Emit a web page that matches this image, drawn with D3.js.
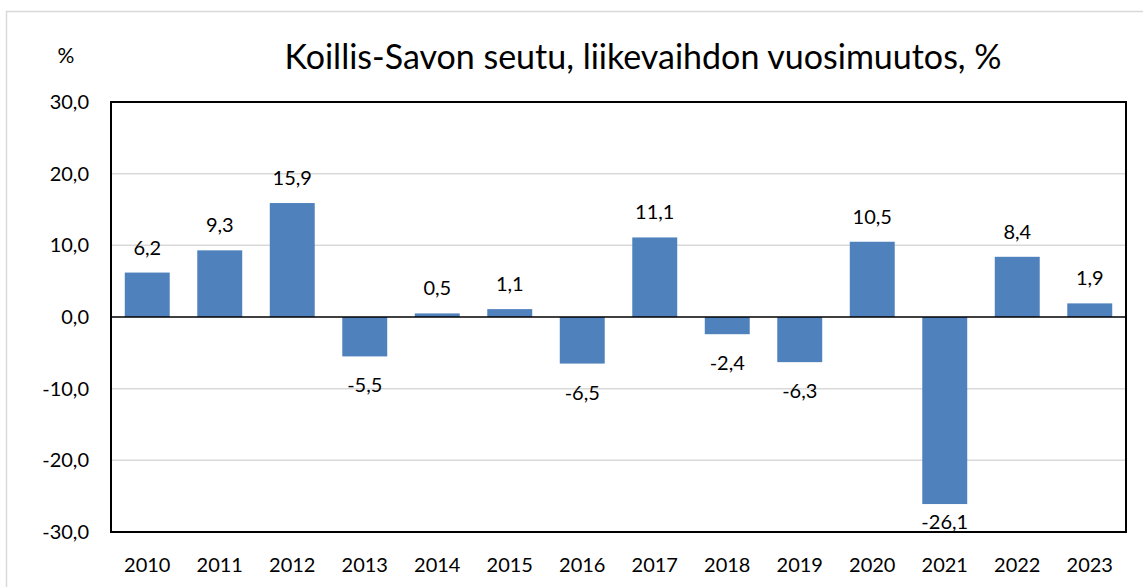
<!DOCTYPE html>
<html>
<head>
<meta charset="utf-8">
<script src="https://cdn.jsdelivr.net/npm/d3@7"></script>
<style>
  body { margin: 0; background: #fff; }
  text { font-family: Lato, "Open Sans", sans-serif; fill: #000; }
</style>
</head>
<body>
<div id="chart"></div>
<script>
let years = ["2010", "2011", "2012", "2013", "2014", "2015", "2016",
             "2017", "2018", "2019", "2020", "2021", "2022", "2023"];
let changes = [6.2, 9.3, 15.9, -5.5, 0.5, 1.1, -6.5, 11.1, -2.4, -6.3, 10.5, -26.1, 8.4, 1.9];
let yTicks = [-30, -20, -10, 0, 10, 20, 30];

let width = 1143, height = 587;
let margin = {top: 102, right: 17, bottom: 55, left: 111};
let plotW = width - margin.left - margin.right;
let plotH = height - margin.top - margin.bottom;

let svg = d3.select("#chart")
    .append("svg")
    .attr("width", width)
    .attr("height", height);

// outer chart frame (only top & left visible)
svg.append("rect")
    .attr("x", 6.5).attr("y", 11.5)
    .attr("width", 1160).attr("height", 600)
    .attr("fill", "none")
    .attr("stroke", "#d9d9d9")
    .attr("stroke-width", 1.5);

let g = svg.append("g")
    .attr("transform", `translate(${margin.left}, ${margin.top})`);

let x = d3.scaleBand()
    .domain(years)
    .range([0, plotW])
    .paddingInner(0.38)
    .paddingOuter(0.19);

let y = d3.scaleLinear()
    .domain([-30, 30])
    .range([plotH, 0]);

let fmt = function(v) { return d3.format(".1f")(v).replace(".", ",").replace("−", "-"); };

// gridlines
g.append("g").selectAll("line")
    .data(yTicks.filter(function(d) { return d !== 0 && Math.abs(d) !== 30; }))
    .enter()
    .append("line")
    .attr("x1", 0).attr("x2", plotW)
    .attr("y1", function(d) { return y(d); })
    .attr("y2", function(d) { return y(d); })
    .attr("stroke", "#d9d9d9")
    .attr("stroke-width", 1.5);

// bars
g.selectAll("rect.bar").data(changes)
    .enter()
    .append("rect")
    .attr("class", "bar")
    .attr("x", function(d, i) { return x(years[i]); })
    .attr("y", function(d) { return y(Math.max(0, d)); })
    .attr("width", x.bandwidth())
    .attr("height", function(d) { return Math.abs(y(d) - y(0)); })
    .attr("fill", "#4f81bd");

// zero line
g.append("line")
    .attr("x1", 0).attr("x2", plotW)
    .attr("y1", y(0)).attr("y2", y(0))
    .attr("stroke", "#000")
    .attr("stroke-width", 1.5);

// plot border
g.append("rect")
    .attr("x", 0).attr("y", 0)
    .attr("width", plotW).attr("height", plotH)
    .attr("fill", "none")
    .attr("stroke", "#000")
    .attr("stroke-width", 2);

// value labels (negative ones below the bar, kept inside the plot)
g.selectAll("text.val").data(changes)
    .enter()
    .append("text")
    .attr("class", "val")
    .attr("x", function(d, i) { return x(years[i]) + x.bandwidth() / 2; })
    .attr("y", function(d) { return d >= 0 ? y(d) - 18 : Math.min(y(d) + 36, plotH - 3); })
    .style("text-anchor", "middle")
    .style("font-size", "20px")
    .text(function(d) { return fmt(d); });

// y axis labels
g.append("g").selectAll("text")
    .data(yTicks)
    .enter()
    .append("text")
    .attr("x", -22)
    .attr("y", function(d) { return y(d); })
    .attr("dy", "0.35em")
    .style("text-anchor", "end")
    .style("font-size", "20px")
    .text(function(d) { return fmt(d); });

// x axis labels
g.append("g").selectAll("text")
    .data(years)
    .enter()
    .append("text")
    .attr("x", function(d) { return x(d) + x.bandwidth() / 2; })
    .attr("y", plotH + 40)
    .style("text-anchor", "middle")
    .style("font-size", "20px")
    .text(function(d) { return d; });

// unit label
svg.append("text")
    .attr("x", 66).attr("y", 63)
    .style("text-anchor", "middle")
    .style("font-size", "21px")
    .text("%");

// title
svg.append("text")
    .attr("x", 643).attr("y", 69)
    .style("text-anchor", "middle")
    .style("font-size", "34px")
    .text("Koillis-Savon seutu, liikevaihdon vuosimuutos, %");
</script>
</body>
</html>
